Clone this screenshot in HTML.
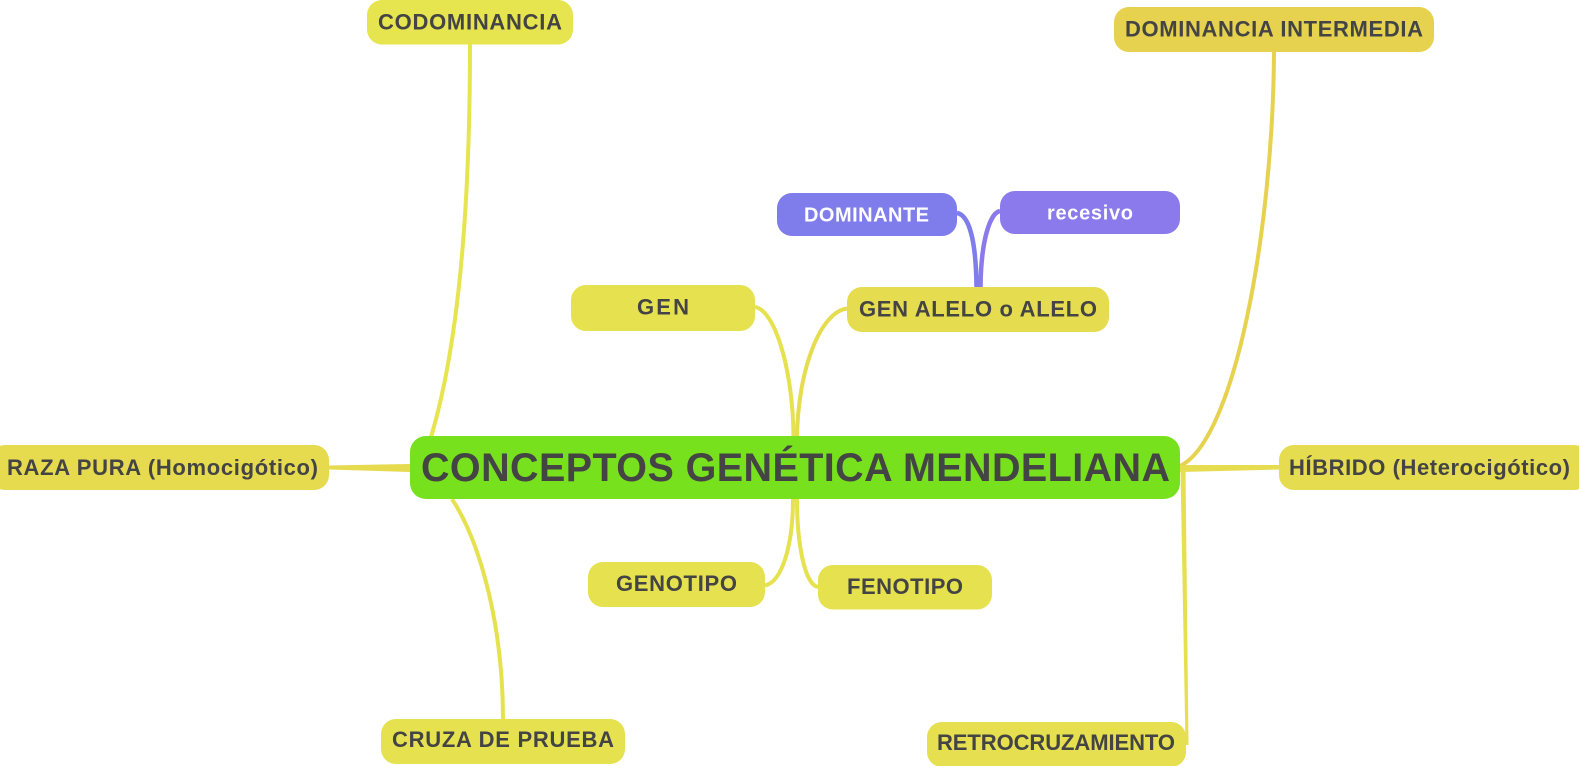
<!DOCTYPE html>
<html><head><meta charset="utf-8"><style>
html,body{margin:0;padding:0;background:#fff;width:1579px;height:766px;overflow:hidden}
svg{display:block}
text{font-family:"Liberation Sans",sans-serif;font-weight:bold;fill:#444;font-size:22px}
</style></head><body>
<svg width="1579" height="766" viewBox="0 0 1579 766" xmlns="http://www.w3.org/2000/svg">
<!-- connectors -->
<g fill="none" stroke-width="4">
<path d="M755 307C775 310 793 370 793.500 437" stroke="#e6e24f"/>
<path d="M847 308.500C820 312 798 370 797 437" stroke="#e6dc4f"/>
<path d="M765 585.500C782 582 793 545 793 499" stroke="#e6e14f"/>
<path d="M818 587C805 585 797 545 797 499" stroke="#e6e14f"/>
<path d="M470 44C470 200 460 340 431 437" stroke="#e6e44f"/>
<path d="M452 499C482 545 503 630 503 719" stroke="#e6e24f"/>
<path d="M1274 52C1273 230 1235 440 1180 466" stroke="#e6d24f"/>
<path d="M957 213C969 215 976 240 976.500 287" stroke="#7f7deb" stroke-width="4.500"/>
<path d="M1000 211C990 213 981 240 980.500 287" stroke="#8a7aeb" stroke-width="4.500"/>
</g>
<polygon points="329,465.500 410,464 410,472 329,469.500" fill="#e6da4f"/>
<polygon points="1180,465 1279,465 1279,469.500 1180,472" fill="#e6dc4f"/>
<polygon points="1180.500,470 1185.500,470 1188.500,745 1185.500,745" fill="#e6df4f"/>
<!-- nodes -->
<rect x="410" y="436" width="770" height="63" rx="16" fill="#78e11e"/>
<rect x="367" y="0" width="206" height="44.500" rx="15" fill="#e6e44f"/>
<rect x="1114" y="7" width="320" height="45" rx="15" fill="#e6d24f"/>
<rect x="777" y="193" width="180" height="43" rx="15" fill="#7f7deb"/>
<rect x="1000" y="191" width="180" height="43" rx="15" fill="#8a7aeb"/>
<rect x="571" y="285" width="184" height="46" rx="15" fill="#e6e24f"/>
<rect x="847" y="287" width="262" height="45" rx="15" fill="#e6dc4f"/>
<rect x="-10" y="445" width="339" height="45" rx="15" fill="#e6da4f"/>
<rect x="1279" y="445" width="310" height="45" rx="15" fill="#e6dc4f"/>
<rect x="588" y="562" width="177" height="45" rx="15" fill="#e6e14f"/>
<rect x="818" y="565" width="174" height="44.500" rx="15" fill="#e6e14f"/>
<rect x="381" y="719" width="244" height="45" rx="15" fill="#e6e24f"/>
<rect x="927" y="722" width="259" height="45" rx="15" fill="#e6df4f"/>
<!-- labels -->
<text x="421" y="481" textLength="749" lengthAdjust="spacing" style="font-size:39.500px">CONCEPTOS GENÉTICA MENDELIANA</text>
<text x="378" y="29.500" textLength="184" lengthAdjust="spacing">CODOMINANCIA</text>
<text x="1125" y="36.500" textLength="298" lengthAdjust="spacing">DOMINANCIA INTERMEDIA</text>
<text x="804" y="221.500" textLength="125" lengthAdjust="spacing" style="font-size:20px;fill:#fff">DOMINANTE</text>
<text x="1047" y="219.500" textLength="86" lengthAdjust="spacing" style="font-size:20px;fill:#fff">recesivo</text>
<text x="637" y="314.500" textLength="52" lengthAdjust="spacing">GEN</text>
<text x="859" y="316.500" textLength="238" lengthAdjust="spacing">GEN ALELO o ALELO</text>
<text x="7" y="475" textLength="311" lengthAdjust="spacing">RAZA PURA (Homocigótico)</text>
<text x="1289" y="475" textLength="281" lengthAdjust="spacing">HÍBRIDO (Heterocigótico)</text>
<text x="616" y="591" textLength="121" lengthAdjust="spacing">GENOTIPO</text>
<text x="847" y="594" textLength="116" lengthAdjust="spacing">FENOTIPO</text>
<text x="392" y="747" textLength="222" lengthAdjust="spacing">CRUZA DE PRUEBA</text>
<text x="937" y="750" textLength="238" lengthAdjust="spacing">RETROCRUZAMIENTO</text>
</svg>
</body></html>
